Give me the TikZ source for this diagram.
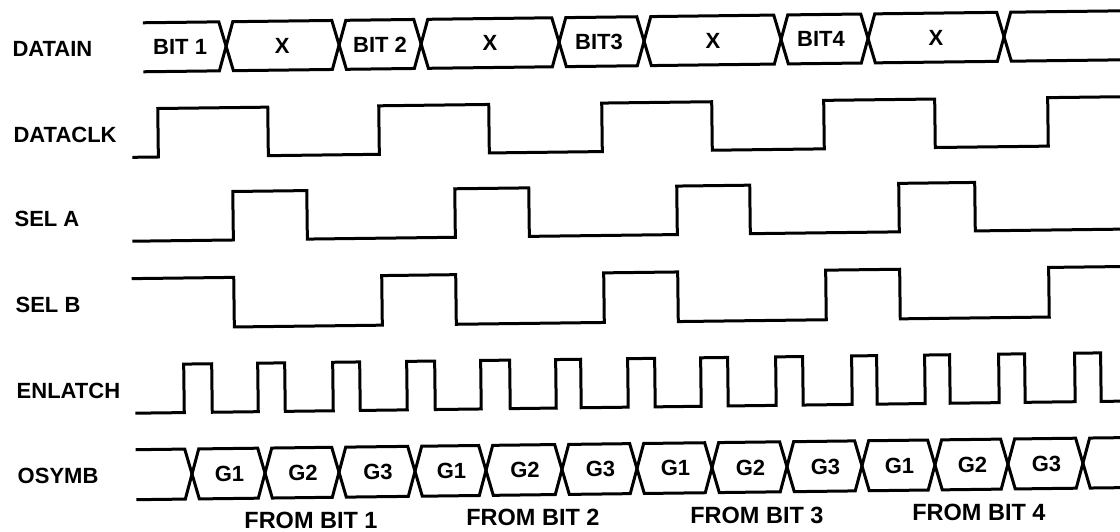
\documentclass[tikz,border=0pt]{standalone}
\usepackage{fontspec}
\setmainfont{Liberation Sans}
\begin{document}
\begin{tikzpicture}[x=1pt,y=-1pt,
  sig/.style={line width=3pt,line join=miter,line cap=butt},
  lab/.style={font=\fontsize{22}{24}\selectfont\bfseries,inner sep=0pt,text height=15.7pt,text depth=0pt},
  fromlab/.style={font=\fontsize{23.5}{25}\selectfont\bfseries,inner sep=0pt,text height=16.8pt,text depth=0pt}]
\fill[white] (0,0) rectangle (1120,532);
\useasboundingbox (0,0) rectangle (1120,532);
\begin{scope}[rotate around={0.7:(560,266)}]
% ---------------- row labels
\begin{scope}[xshift=1.5]
\node[lab,anchor=west] (lDatain)  at (13.5,42.2)   {DATAIN};
\node[lab,anchor=west] (lDataclk) at (13.5,127.9)  {DATACLK};
\node[lab,anchor=west] (lSelA)    at (13.5,211.8)  {SEL A};
\node[lab,anchor=west] (lSelB)    at (13.5,298.2)  {SEL B};
\node[lab,anchor=west] (lEnlatch) at (13.5,383.8)  {ENLATCH};
\node[lab,anchor=west] (lOsymb)   at (13.5,469.5)  {OSYMB};
\end{scope}
% ---------------- DATAIN bus
\begin{scope}[xshift=2.8]
\draw[sig] (143,17.7) \foreach \c [count=\i] in {226,339,421,559,644,781,868,1004}
  { -- ({\c-7},{isodd(\i)?17.7:66.7}) -- ({\c+7},{isodd(\i)?66.7:17.7}) } -- (1126,17.7);
\draw[sig] (143,66.7) \foreach \c [count=\i] in {226,339,421,559,644,781,868,1004}
  { -- ({\c-7},{isodd(\i)?66.7:17.7}) -- ({\c+7},{isodd(\i)?17.7:66.7}) } -- (1126,66.7);
\node[lab] (b1) at (180,42.2) {BIT 1};
\node[lab] (x1) at (282,42.2) {X};
\node[lab] (b2) at (380,42.2) {BIT 2};
\node[lab] (x2) at (490,42.2) {X};
\node[lab] (b3) at (599,42.2) {BIT3};
\node[lab] (x3) at (713,42.2) {X};
\node[lab] (b4) at (821,42.2) {BIT4};
\node[lab] (x4) at (936,42.2) {X};
\end{scope}
% ---------------- DATACLK
\begin{scope}[xshift=1.7]
\draw[sig] (132,152.1) -| (158,103.6) -| (268,152.1) -| (379,103.6) -| (489,152.1)
  -| (602,103.6) -| (712,152.1) -| (824,103.6) -| (935,152.1) -| (1048,103.6) -- (1126,103.6);
\end{scope}
% ---------------- SEL A
\begin{scope}[xshift=0.7]
\draw[sig] (132,236) -| (233,187.5) -| (307,236) -| (455,187.5) -| (529,236)
  -| (677,187.5) -| (750,236) -| (899,187.5) -| (975,236) -- (1126,236);
\end{scope}
% ---------------- SEL B
\begin{scope}[xshift=-0.4]
\draw[sig] (132,273.4) -| (234,323) -| (382,273.4) -| (456,323) -| (604,273.4)
  -| (678,323) -| (826,273.4) -| (900,323) -| (1049,273.4) -- (1126,273.4);
\end{scope}
% ---------------- ENLATCH
\begin{scope}[xshift=-1.5]
\draw[sig] (135,408) \foreach \a/\b in {184/212,258/285,333/360,407/435,481/510,556/581,628/655,701/728,776/803,852/877,925/950,999/1025,1075/1101}
  { -| (\a,359.5) -| (\b,408) } -- (1126,408);
\end{scope}
% ---------------- OSYMB bus
\begin{scope}[xshift=-2.5]
\draw[sig] (136,444.5) \foreach \c [count=\i] in {192,265,339,415,486,562,637,712,787,862,935,1008,1083}
  { -- ({\c-7},{isodd(\i)?444.5:494.5}) -- ({\c+7},{isodd(\i)?494.5:444.5}) } -- (1126,494.5);
\draw[sig] (136,494.5) \foreach \c [count=\i] in {192,265,339,415,486,562,637,712,787,862,935,1008,1083}
  { -- ({\c-7},{isodd(\i)?494.5:444.5}) -- ({\c+7},{isodd(\i)?444.5:494.5}) } -- (1126,444.5);
\foreach \xx/\t [count=\k] in {229.5/G1,303/G2,378/G3,451.5/G1,525/G2,600.5/G3,675.5/G1,750.5/G2,825.5/G3,899.5/G1,972.5/G2,1046.5/G3}
  \node[lab] (g\k) at (\xx,469.5) {\t};
\end{scope}
% ---------------- FROM BIT labels
\begin{scope}[xshift=-3.1]
\node[fromlab] (f1) at (311,517) {FROM BIT 1};
\node[fromlab] (f2) at (533,517) {FROM BIT 2};
\node[fromlab] (f3) at (757,517) {FROM BIT 3};
\node[fromlab] (f4) at (979,517) {FROM BIT 4};
\end{scope}
\end{scope}
\end{tikzpicture}
\end{document}
